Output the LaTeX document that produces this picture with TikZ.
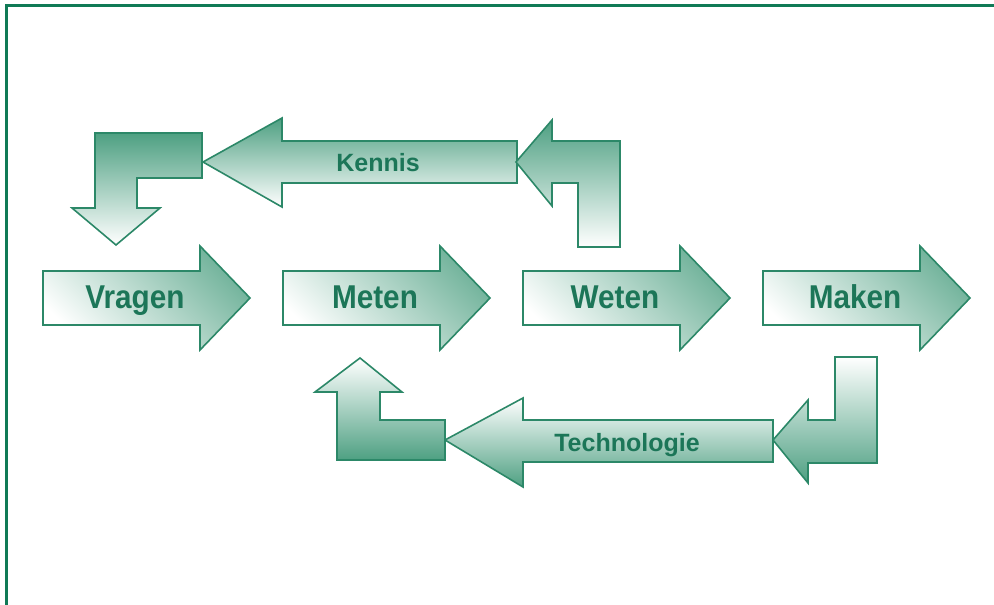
\documentclass[tikz,border=0pt]{standalone}
\usepackage{fontspec}
\setmainfont{Liberation Sans}
\definecolor{framegreen}{RGB}{16,122,86}
\definecolor{linegreen}{RGB}{44,136,104}
\definecolor{fillgreen}{RGB}{78,160,130}
\definecolor{textgreen}{RGB}{28,118,88}
\begin{document}
\begin{tikzpicture}
        [x=1pt,y=-1pt,
        arrowdecorate/.style={draw=linegreen,line width=1.6pt,line join=miter},%
        mainshade/.style={arrowdecorate,top color=fillgreen!80,bottom color=white,shading angle=-45},%
        upshade/.style={arrowdecorate,top color=fillgreen,bottom color=white},%
        downshade/.style={arrowdecorate,top color=white,bottom color=fillgreen},%
        biglabel/.style={anchor=base,inner sep=0pt,xscale=0.9,text=textgreen,font=\fontsize{33}{33}\selectfont\bfseries},%
        smalllabel/.style={anchor=base,inner sep=0pt,text=textgreen,font=\fontsize{25}{25}\selectfont\bfseries}]
        \useasboundingbox (0,0) rectangle (994,605);
        %% frame
        \draw[framegreen,line width=3pt] (6.2,605) -- (6.2,5.2) -- (994,5.2);

        %% main row
        \foreach \name/\x/\word in {vragen/43/Vragen, meten/283/Meten,
          weten/523/Weten, maken/763/Maken}
        {
          \draw[mainshade] (\x,271) -- ++(157,0) -- ++(0,-25) -- (\x+207,298)
            -- (\x+157,350) -- ++(0,-25) -- (\x,325) -- cycle;
          \node[biglabel] (\name) at (\x+92,308) {\word};
        }

        %% kennis loop
        \draw[upshade] (95,133) -- (202,133) -- (202,178) -- (137,178) -- (137,208)
          -- (160,208) -- (116,245) -- (72,208) -- (95,208) -- cycle;
        \draw[upshade] (203,162) -- (282,118) -- (282,141) -- (517,141) -- (517,183)
          -- (282,183) -- (282,207) -- cycle;
        \draw[upshade] (516,162) -- (552,120) -- (552,141) -- (620,141) -- (620,247)
          -- (578,247) -- (578,183) -- (552,183) -- (552,206) -- cycle;
        \node[smalllabel] (kennis) at (378,171) {Kennis};

        %% technologie loop
        \draw[downshade] (773,440) -- (808,400) -- (808,420) -- (835,420) -- (835,357)
          -- (877,357) -- (877,463) -- (808,463) -- (808,483) -- cycle;
        \draw[downshade] (445,440) -- (523,398) -- (523,420) -- (773,420) -- (773,462)
          -- (523,462) -- (523,487) -- cycle;
        \draw[downshade] (360,358) -- (402,392) -- (380,392) -- (380,420) -- (445,420)
          -- (445,460) -- (337,460) -- (337,392) -- (315,392) -- cycle;
        \node[smalllabel] (technologie) at (627,451) {Technologie};
      \end{tikzpicture}
\end{document}
